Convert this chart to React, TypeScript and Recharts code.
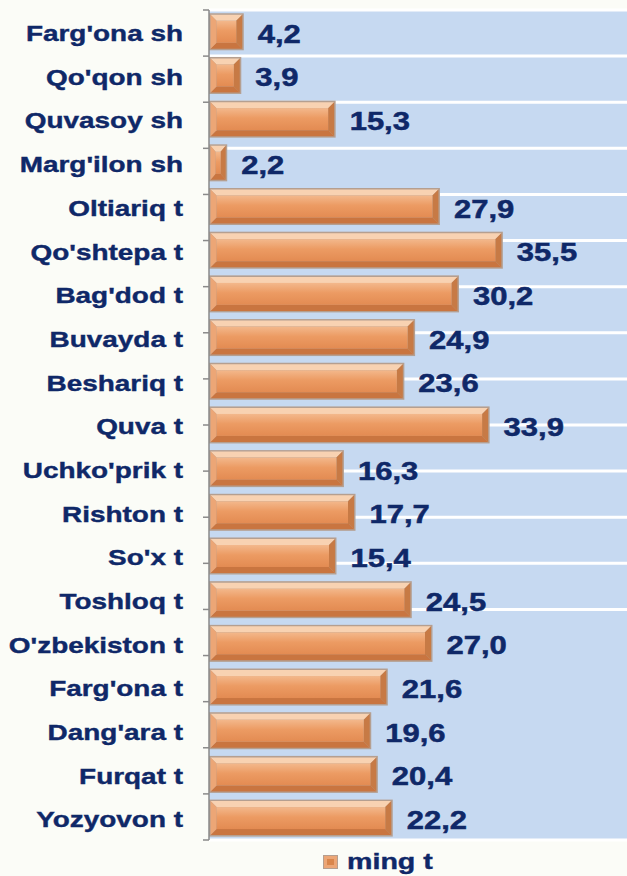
import React from "react";
import { BarChart, Bar, XAxis, YAxis, CartesianGrid, LabelList, Legend } from "recharts";

const categories = [
  "Farg'ona sh", "Qo'qon sh", "Quvasoy sh", "Marg'ilon sh", "Oltiariq t", "Qo'shtepa t",
  "Bag'dod t", "Buvayda t", "Beshariq t", "Quva t", "Uchko'prik t", "Rishton t", "So'x t",
  "Toshloq t", "O'zbekiston t", "Farg'ona t", "Dang'ara t", "Furqat t", "Yozyovon t",
];
const values = [4.2, 3.9, 15.3, 2.2, 27.9, 35.5, 30.2, 24.9, 23.6, 33.9, 16.3, 17.7, 15.4, 24.5, 27.0, 21.6, 19.6, 20.4, 22.2];
const seriesName = "ming t";
const gridTicks = [0, 1, 2, 3, 4, 5, 6, 7, 8, 9, 10, 11, 12, 13];
const boundaryTicks = [0, 1, 2, 3, 4, 5, 6, 7, 8, 9, 10, 11, 12, 13, 14, 15, 16, 17, 18, 19];
const valueDomain = [0, 50.5];

const data = categories.map((name, i) => ({ name, value: values[i] }));

const NAVY = "#0f2868";
const FONT = "'Liberation Sans', Arial, sans-serif";

const fmt = (v: number) => v.toFixed(1).replace(".", ",");

function BevelBar(props: any) {
  const { x, y, width: w, height: h, index } = props;
  if (!w || w <= 0) return null;
  const ix = x + 1.5, iy = y + 1.5, iw = w - 3, ih = h - 3;
  const bx = Math.min(6, Math.max(2, iw / 3));
  const by = Math.min(6, ih / 4);
  const gid = `barBody${index}`;
  const pts = (a: number[][]) => a.map((p) => p.join(",")).join(" ");
  return (
    <g>
      <defs>
        <linearGradient id={gid} x1="0" y1="0" x2="0" y2="1">
          <stop offset="0%" stopColor="#f3b88c" />
          <stop offset="45%" stopColor="#ec9b63" />
          <stop offset="100%" stopColor="#e38b52" />
        </linearGradient>
      </defs>
      <rect x={x} y={y} width={w} height={h} fill="#b59f90" />
      <polygon points={pts([[ix, iy], [ix + iw, iy], [ix + iw - bx, iy + by], [ix + bx, iy + by]])} fill="#f8d2b2" />
      <polygon points={pts([[ix, iy + ih], [ix + iw, iy + ih], [ix + iw - bx, iy + ih - by], [ix + bx, iy + ih - by]])} fill="#c97540" />
      <polygon points={pts([[ix, iy], [ix + bx, iy + by], [ix + bx, iy + ih - by], [ix, iy + ih]])} fill="#eca676" />
      <polygon points={pts([[ix + iw, iy], [ix + iw - bx, iy + by], [ix + iw - bx, iy + ih - by], [ix + iw, iy + ih]])} fill="#c77a45" />
      <rect x={ix + bx} y={iy + by} width={Math.max(0, iw - 2 * bx)} height={Math.max(0, ih - 2 * by)} fill={`url(#${gid})`} />
    </g>
  );
}

function CatTick(props: any) {
  const { x, y, payload } = props;
  return (
    <g transform={`translate(${x},${y})`}>
      <text transform="scale(1.27,1)" x={0} y={0} dy="0.42em" textAnchor="end" fill={NAVY}
        fontFamily={FONT} fontWeight="bold" fontSize={22} stroke={NAVY} strokeWidth={0.4}>
        {payload.value}
      </text>
    </g>
  );
}

function ValueLabel(props: any) {
  const { x, y, width, height, value } = props;
  return (
    <g transform={`translate(${x + width + 14},${y + height / 2 + 2})`}>
      <text transform="scale(1.24,1)" x={0} y={0} dy="0.36em" textAnchor="start" fill={NAVY}
        fontFamily={FONT} fontWeight="bold" fontSize={25} stroke={NAVY} strokeWidth={0.5}>
        {fmt(value)}
      </text>
    </g>
  );
}

const EmptyTick = () => <g />;

function LegendContent() {
  return (
    <div style={{ height: 36, display: "flex", alignItems: "center", paddingLeft: 323, paddingTop: 8, boxSizing: "border-box" }}>
      <svg width={15} height={14} style={{ display: "block" }}>
        <rect x={0} y={0} width={15} height={14} fill="#b59f90" />
        <rect x={1} y={1} width={13} height={12} fill="#eca676" />
        <rect x={4} y={4} width={7} height={6} fill="#d9864c" />
      </svg>
      <span style={{
        display: "inline-block", marginLeft: 9, fontFamily: FONT, fontWeight: "bold", fontSize: 22,
        color: NAVY, transform: "scale(1.3,1)", transformOrigin: "left center", whiteSpace: "nowrap", lineHeight: "26px",
        WebkitTextStroke: `0.4px ${NAVY}`,
      }}>{seriesName}</span>
    </div>
  );
}

export default function App() {
  return (
    <div style={{ position: "absolute", left: 0, top: 0, width: 627, height: 876, background: "#fbfcf7" }}>
      <BarChart
        width={627}
        height={876}
        data={data}
        layout="vertical"
        margin={{ top: 10, right: 0, bottom: 0, left: 0 }}
        barCategoryGap="7.5%"
      >
        <CartesianGrid yAxisId="grid" vertical={false} horizontal stroke="#ffffff" strokeWidth={3}
          fill="#c6d9f1" fillOpacity={1} />
        <XAxis type="number" domain={valueDomain} hide allowDataOverflow />
        <YAxis yAxisId="grid" type="number" domain={[0, 13]} ticks={gridTicks} hide allowDataOverflow />
        <YAxis yAxisId="cat" type="category" dataKey="name" width={208} axisLine={false} tickLine={false}
          tick={CatTick} interval={0} tickMargin={19} />
        <YAxis yAxisId="bound" type="number" domain={[0, 19]} ticks={boundaryTicks} width={1}
          tick={EmptyTick} tickSize={6} tickLine={{ stroke: "#8a8a8a", strokeWidth: 1.5 }}
          axisLine={{ stroke: "#8a8a8a", strokeWidth: 1.5 }} allowDataOverflow />
        <Bar yAxisId="cat" dataKey="value" name={seriesName} shape={BevelBar} isAnimationActive={false}>
          <LabelList dataKey="value" content={ValueLabel} />
        </Bar>
        <Legend verticalAlign="bottom" content={LegendContent} />
      </BarChart>
    </div>
  );
}
